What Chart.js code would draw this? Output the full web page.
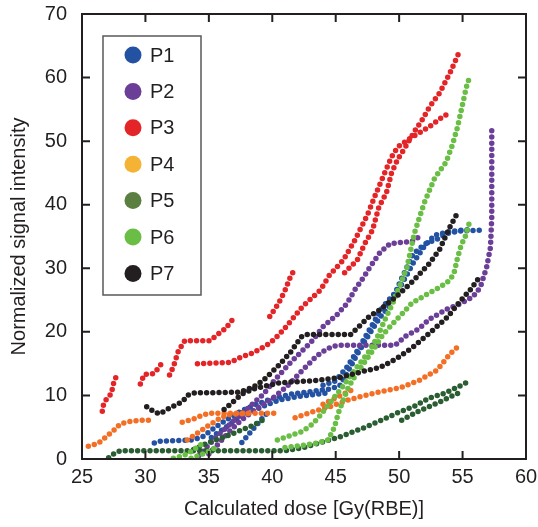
<!DOCTYPE html>
<html>
<head>
<meta charset="utf-8">
<script src="https://cdn.jsdelivr.net/npm/chart.js@4.4.1/dist/chart.umd.min.js"></script>
<style>
  html, body { margin: 0; padding: 0; background: #fff; }
  #wrap { width: 538px; height: 527px; }
</style>
</head>
<body>
<div id="wrap"><canvas id="myChart" width="538" height="527"></canvas></div>
<script>
// patients (legend)
var names = ["P1", "P2", "P3", "P4", "P5", "P6", "P7"];
var lineColors = ["#2352a3", "#6b3f98", "#e42528", "#f36f25", "#2a5e32", "#6abd45", "#231f20"];
var legendColors = ["#2352a3", "#6b3f98", "#e42528", "#f5b335", "#5b7f40", "#6abd45", "#231f20"];

// axis ticks
var xTicks = [25, 30, 35, 40, 45, 50, 55, 60];
var yTicks = [0, 10, 20, 30, 40, 50, 60, 70];

// [dose, signal] traces, one array per curve
var p1 = [
    [[30.7,2.5],[31.2,2.8],[33.7,3.0],[34.5,3.5],[35.5,5.0],[36.5,6.3],[37.5,7.5],[38.5,8.4],[40.0,9.5],[41.5,10.2],[43.0,10.6],[44.5,11.0],[45.3,11.5],[45.9,13.5],[46.7,16.5],[47.6,19.5],[48.5,22.3],[49.3,24.2],[50.1,28.0],[51.1,32.2],[52.0,33.8],[53.0,34.6],[53.8,35.5],[55.0,35.9],[56.8,36.0]],
    [[44.0,11.6],[45.0,12.3],[45.9,14.5],[46.7,17.0],[47.5,19.8],[48.7,23.9],[50.1,27.1],[51.1,30.8],[52.0,33.5],[52.8,35.2],[54.0,35.8],[55.5,36.1]],
    [[37.6,2.6],[38.1,3.8],[38.7,5.2],[39.3,6.6],[39.6,7.2]],
    [[35.2,3.4],[36.2,4.8],[37.2,6.2],[38.3,7.4],[39.5,8.5],[40.6,9.3],[42.0,9.8],[43.5,10.2],[44.5,10.4]]
];
var p2 = [
    [[34.2,0.5],[34.8,1.8],[35.5,3.3],[36.3,4.8],[37.2,6.5],[38.2,8.2],[39.3,10.2],[40.1,12.2],[41.4,15.1],[42.4,17.1],[43.2,18.7],[44.0,20.8],[45.1,22.7],[45.9,24.5],[46.5,26.6],[47.2,28.6],[47.7,30.2],[48.5,32.5],[49.3,33.9],[51.0,34.2],[51.6,35.0]],
    [[35.0,0.8],[35.8,2.5],[36.7,4.5],[37.5,6.0],[38.8,8.0],[40.0,9.5],[41.2,11.5],[42.4,14.0],[43.5,16.2],[44.3,17.3],[45.1,17.9],[49.7,17.9],[50.5,19.3],[51.5,20.4],[52.4,22.0],[53.8,23.6],[54.8,24.4],[55.8,25.5],[56.4,27.0],[56.9,30.2],[57.2,33.3],[57.3,38.0],[57.3,44.0],[57.3,52.3]]
];
var p3 = [
    [[26.6,7.5],[26.7,8.6],[27.0,9.7],[27.3,10.2],[27.5,12.0],[27.8,13.5]],
    [[29.6,11.8],[29.9,13.3],[30.6,13.4],[31.0,14.2],[31.3,15.1]],
    [[31.9,13.2],[32.2,14.5],[32.6,17.0],[33.1,18.6],[35.1,18.6],[35.7,19.6],[36.3,20.5],[37.1,22.5]],
    [[34.1,15.0],[36.7,15.2],[37.5,16.0],[38.5,16.7],[39.8,18.2],[40.5,19.5],[41.0,20.6],[42.4,24.0],[43.8,26.6],[44.5,28.9],[45.6,31.3],[46.5,34.4],[47.5,38.4],[48.1,41.4],[48.9,45.2],[49.4,47.5],[49.9,49.1],[50.9,50.5],[51.6,51.3],[52.4,52.3],[53.2,53.5],[53.9,54.4]],
    [[39.8,22.4],[40.5,24.5],[41.0,26.5],[41.4,28.5],[41.8,30.0]],
    [[45.7,29.3],[46.7,31.3],[47.3,33.9],[47.9,36.0],[48.4,39.6],[49.0,41.9],[49.4,45.0],[49.9,47.2],[50.5,49.1],[51.2,51.5],[51.8,53.3],[52.4,55.4],[53.2,57.6],[54.0,60.7],[54.8,64.3]]
];
var p4 = [
    [[25.5,2.0],[26.3,2.5],[26.8,3.3],[27.5,4.5],[28.0,5.5],[28.5,5.8],[29.5,6.1],[30.7,6.1]],
    [[32.9,5.8],[33.7,6.2],[34.4,6.8],[35.0,7.2],[40.4,7.2]],
    [[33.3,3.0],[34.2,4.2],[35.0,5.3],[35.7,6.2],[36.5,7.0],[38.5,7.2]],
    [[41.8,6.5],[43.0,7.3],[44.5,8.2],[46.0,9.3],[47.7,10.2],[49.0,10.8],[50.1,11.2],[51.6,12.4],[53.0,14.0],[54.0,16.5],[54.6,17.6]],
    [[44.0,8.6],[45.0,9.6],[46.2,10.8]]
];
var p5 = [
    [[27.1,0.2],[27.5,0.8],[28.0,1.3],[41.0,1.3],[42.5,1.8],[44.0,2.7],[45.5,3.6],[47.2,4.9],[48.5,6.0],[49.8,7.2],[51.2,8.3],[52.4,9.6],[53.5,10.3],[54.5,11.2],[55.3,12.0]],
    [[50.2,6.1],[51.5,7.5],[53.0,8.8],[54.8,10.5]],
    [[33.8,1.5],[35.0,2.6],[36.3,3.5],[37.5,4.5],[38.5,5.3],[39.4,6.3]]
];
var p6 = [
    [[32.2,0.1],[33.0,0.5],[33.7,1.3],[34.3,2.2],[34.8,2.5]],
    [[33.6,0.1],[34.3,0.6],[35.0,1.2],[35.6,1.9]],
    [[40.4,3.0],[41.3,3.6],[42.3,4.3],[43.0,5.2],[43.6,6.4],[44.3,8.2],[45.0,10.0],[45.6,11.5],[46.3,13.5],[47.0,15.3],[47.7,17.1],[48.3,19.3],[48.9,22.0],[49.5,24.5],[50.0,27.0],[50.6,30.0],[51.2,35.5],[51.6,38.0],[52.0,40.4],[52.8,44.2],[53.7,46.7],[54.2,49.4],[54.6,52.2],[54.9,54.9],[55.2,57.6],[55.4,59.3],[55.7,60.4]],
    [[41.0,1.8],[42.2,2.1],[43.5,2.5],[44.4,3.0],[44.9,5.0],[45.2,7.2],[45.6,9.3],[46.0,11.3],[46.6,13.3],[47.3,15.3],[48.0,17.3],[48.7,19.5],[49.5,21.3],[50.3,23.0],[51.0,24.5],[52.0,25.7],[53.0,26.8],[53.8,27.8],[54.3,29.0],[54.6,31.6],[54.9,33.7],[55.2,34.9],[55.6,37.6]]
];
var p7 = [
    [[30.1,8.2],[30.7,7.4],[31.1,7.1],[31.9,8.0],[32.9,9.0],[33.4,10.1],[33.9,10.4],[37.4,10.5],[38.5,11.3],[39.3,12.4],[40.4,14.5],[41.4,16.7],[42.3,19.2],[42.7,19.6],[46.2,19.6],[46.7,20.6],[47.7,22.5],[48.5,23.5],[49.8,25.6],[51.1,28.0],[52.4,30.8],[53.2,33.0],[54.0,36.5],[54.6,38.7]],
    [[36.2,7.8],[36.8,8.8],[37.6,10.2],[38.5,11.0],[39.5,11.5],[40.6,12.0],[43.2,12.3],[45.3,12.8],[47.2,13.8],[48.5,14.4],[49.8,15.8],[51.1,17.6],[52.4,19.8],[53.8,22.3],[54.8,24.8],[55.6,26.6],[56.4,28.8]]
];
var patients = [p1, p2, p3, p4, p5, p6, p7];

var textColor = "#231f20";
var fontFamily = '"Liberation Sans", Arial, Helvetica, sans-serif';

// one dataset per trace, dotted look via round-capped zero-length dashes
var datasets = [];
patients.forEach(function(traces, i) {
    traces.forEach(function(trace) {
        datasets.push({
            label: names[i],
            data: trace.map(function(p) { return {x: p[0], y: p[1]}; }),
            showLine: true,
            borderColor: lineColors[i],
            backgroundColor: lineColors[i],
            borderWidth: 5.5,
            borderDash: [0, 6.2],
            borderCapStyle: "round",
            borderJoinStyle: "round",
            pointRadius: 0,
            tension: 0,
            order: 7 - i
        });
    });
});

// frame with inward ticks on all four sides
var framePlugin = {
    id: "frame",
    afterDraw: function(chart) {
        var ctx = chart.ctx, a = chart.chartArea;
        var xs = chart.scales.x, ys = chart.scales.y;
        ctx.save();
        ctx.strokeStyle = textColor;
        ctx.lineWidth = 2;
        ctx.strokeRect(a.left, a.top, a.right - a.left, a.bottom - a.top);
        ctx.beginPath();
        xTicks.forEach(function(v) {
            var px = xs.getPixelForValue(v);
            ctx.moveTo(px, a.bottom); ctx.lineTo(px, a.bottom - 8);
            ctx.moveTo(px, a.top); ctx.lineTo(px, a.top + 8);
        });
        yTicks.forEach(function(v) {
            var py = ys.getPixelForValue(v);
            ctx.moveTo(a.left, py); ctx.lineTo(a.left + 8, py);
            ctx.moveTo(a.right, py); ctx.lineTo(a.right - 8, py);
        });
        ctx.stroke();
        ctx.restore();
    }
};

// boxed legend in the upper left of the plot
var legendPlugin = {
    id: "boxLegend",
    afterDraw: function(chart) {
        var ctx = chart.ctx, a = chart.chartArea;
        var bx = a.left + 21, by = a.top + 22, bw = 98, bh = 259;
        ctx.save();
        ctx.fillStyle = "#fff";
        ctx.fillRect(bx, by, bw, bh);
        ctx.strokeStyle = "#58595b";
        ctx.lineWidth = 1.5;
        ctx.strokeRect(bx, by, bw, bh);
        ctx.font = "20px " + fontFamily;
        ctx.textBaseline = "middle";
        names.forEach(function(n, i) {
            var cy = by + 19 + i * 36.4;
            ctx.beginPath();
            ctx.arc(bx + 30, cy, 8.5, 0, 2 * Math.PI);
            ctx.fillStyle = legendColors[i];
            ctx.fill();
            ctx.fillStyle = textColor;
            ctx.fillText(n, bx + 47, cy + 1);
        });
        ctx.restore();
    }
};

var ctx = document.getElementById("myChart");
var myChart = new Chart(ctx, {
    type: "scatter",
    data: { datasets: datasets },
    options: {
        responsive: false,
        animation: false,
        devicePixelRatio: 1,
        layout: { padding: { left: 0, right: 12, top: 14, bottom: 0 } },
        plugins: { legend: { display: false }, tooltip: { enabled: false } },
        scales: {
            x: {
                type: "linear", min: 25, max: 60,
                afterBuildTicks: function(s) { s.ticks = xTicks.map(function(v) { return {value: v}; }); },
                afterFit: function(s) { s.height = 68; s.paddingLeft = 0; s.paddingRight = 0; },
                grid: { display: false, drawTicks: false },
                border: { display: false },
                ticks: { color: textColor, padding: 6, font: { size: 20, family: fontFamily } },
                title: {
                    display: true, text: "Calculated dose [Gy(RBE)]", color: textColor,
                    font: { size: 20, family: fontFamily }, padding: { top: 0, bottom: 6 }
                }
            },
            y: {
                type: "linear", min: 0, max: 70,
                afterBuildTicks: function(s) { s.ticks = yTicks.map(function(v) { return {value: v}; }); },
                afterFit: function(s) { s.width = 82; s.paddingTop = 0; s.paddingBottom = 0; },
                grid: { display: false, drawTicks: false },
                border: { display: false },
                ticks: { color: textColor, padding: 15, font: { size: 20, family: fontFamily } },
                title: {
                    display: true, text: "Normalized signal intensity", color: textColor,
                    font: { size: 20, family: fontFamily }, padding: { top: 7, bottom: 0 }
                }
            }
        }
    },
    plugins: [framePlugin, legendPlugin]
});
</script>
</body>
</html>
